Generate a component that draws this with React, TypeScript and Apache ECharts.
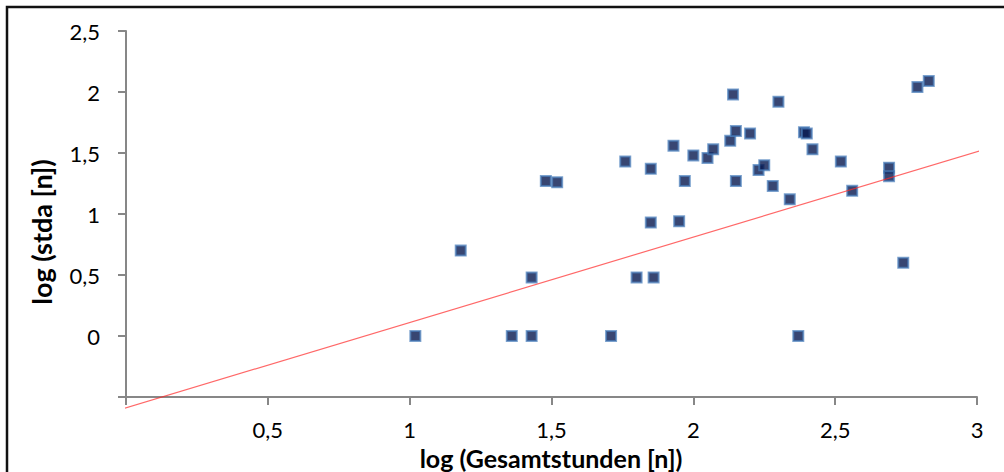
import React, { useEffect, useRef } from "react";
import * as echarts from "echarts";

const xValues = [
  1.02, 1.18, 1.36, 1.43, 1.43, 1.48, 1.52, 1.71, 1.76, 1.8,
  1.85, 1.85, 1.86, 1.93, 1.95, 1.97, 2.0, 2.05, 2.07, 2.13,
  2.14, 2.15, 2.15, 2.2, 2.23, 2.25, 2.28, 2.3, 2.34, 2.37,
  2.39, 2.4, 2.42, 2.52, 2.56, 2.69, 2.69, 2.74, 2.79, 2.83,
];
const yValues = [
  0, 0.7, 0, 0, 0.48, 1.27, 1.26, 0, 1.43, 0.48,
  0.93, 1.37, 0.48, 1.56, 0.94, 1.27, 1.48, 1.46, 1.53, 1.6,
  1.98, 1.68, 1.27, 1.66, 1.36, 1.4, 1.23, 1.92, 1.12, 0,
  1.67, 1.66, 1.53, 1.43, 1.19, 1.38, 1.31, 0.6, 2.04, 2.09,
];
const trendX = [-0.059, 3.028];
const trendY = [-0.63, 1.53];

const xTicks = { min: 0, max: 3, interval: 0.5 };
const yTicks = { min: -0.5, max: 2.5, interval: 0.5 };

const xTitle = "log (Gesamtstunden [n])";
const yTitle = "log (stda [n])";

const FONT = "Lato, 'Open Sans', sans-serif";

function fmt(min: number) {
  return (v: number) => (Math.abs(v - min) < 1e-9 ? "" : String(v).replace(".", ","));
}

export default function App() {
  const ref = useRef<HTMLDivElement>(null);
  useEffect(() => {
    if (!ref.current) return;
    const chart = echarts.init(ref.current, undefined, { renderer: "svg" });
    const axisLine = { show: true, lineStyle: { color: "#878787", width: 2 } };
    chart.setOption({
      animation: false,
      backgroundColor: "#ffffff",
      grid: { left: 126, right: 27, top: 31, bottom: 75, containLabel: false },
      xAxis: {
        type: "value",
        min: xTicks.min,
        max: xTicks.max,
        interval: xTicks.interval,
        axisLine: { ...axisLine, onZero: false },
        axisTick: { show: true, length: 8, lineStyle: { color: "#878787", width: 2 } },
        splitLine: { show: false },
        axisLabel: {
          formatter: fmt(xTicks.min),
          color: "#000",
          fontFamily: FONT,
          fontSize: 22,
          margin: 21,
        },
      },
      yAxis: {
        type: "value",
        min: yTicks.min,
        max: yTicks.max,
        interval: yTicks.interval,
        axisLine: { ...axisLine, onZero: false },
        axisTick: { show: true, length: 8, lineStyle: { color: "#878787", width: 2 } },
        splitLine: { show: false },
        axisLabel: {
          formatter: fmt(yTicks.min),
          color: "#000",
          fontFamily: FONT,
          fontSize: 22,
          margin: 26,
        },
      },
      graphic: [
        {
          type: "rect",
          shape: { x: 7, y: 7, width: 1100, height: 600 },
          style: { fill: "none", stroke: "#111", lineWidth: 2.5 },
          silent: true,
        },
        {
          type: "text",
          x: 551,
          y: 458,
          style: {
            text: xTitle,
            font: `bold 25px ${FONT}`,
            fill: "#000",
            textAlign: "center",
            textVerticalAlign: "middle",
          },
        },
        {
          type: "text",
          x: 41,
          y: 232,
          rotation: Math.PI / 2,
          style: {
            text: yTitle,
            font: `bold 27px ${FONT}`,
            fill: "#000",
            textAlign: "center",
            textVerticalAlign: "middle",
          },
        },
      ],
      series: [
        {
          type: "scatter",
          data: xValues.map((x, i) => [x, yValues[i]]),
          symbol: "rect",
          symbolSize: 10,
          itemStyle: {
            color: "#06184f",
            borderColor: "rgba(74,126,187,0.9)",
            borderWidth: 2,
          },
          z: 2,
        },
        {
          type: "line",
          data: trendX.map((x, i) => [x, trendY[i]]),
          symbol: "none",
          clip: false,
          lineStyle: { color: "rgba(255,40,40,0.7)", width: 1.2 },
          z: 3,
        },
      ],
    });
    return () => chart.dispose();
  }, []);
  return (
    <div
      ref={ref}
      style={{ position: "absolute", left: 0, top: 0, width: 1004, height: 472 }}
    />
  );
}
